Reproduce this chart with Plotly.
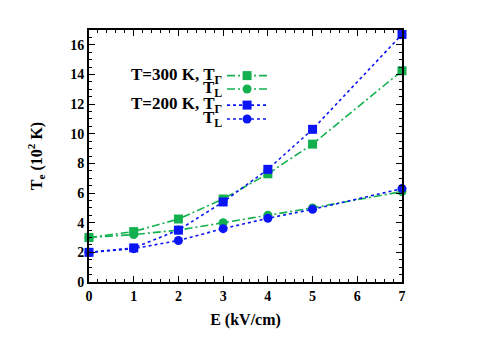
import plotly.graph_objects as go

E = [0, 1, 2, 3, 4, 5, 7]
T300_G = [3.0, 3.4, 4.25, 5.6, 7.3, 9.3, 14.25]
T300_L = [3.0, 3.2, 3.5, 4.0, 4.5, 5.0, 6.1]
T200_G = [2.0, 2.3, 3.5, 5.4, 7.6, 10.3, 16.7]
T200_L = [2.0, 2.25, 2.8, 3.6, 4.3, 4.9, 6.3]

labels = ["T=300 K, T<sub>Γ</sub>", "T<sub>L</sub>", "T=200 K, T<sub>Γ</sub>", "T<sub>L</sub>"]

GREEN = "#13b04f"
BLUE = "#0a14f5"
styles = [
    (T300_G, GREEN, "8px,3px,2px,3px", "square"),
    (T300_L, GREEN, "8px,3px,2px,3px", "circle"),
    (T200_G, BLUE, "3px,3px", "square"),
    (T200_L, BLUE, "3px,3px", "circle"),
]

FONT = "Liberation Serif, Times New Roman, serif"
fig = go.Figure()
for ys, col, dash, sym in styles:
    fig.add_trace(go.Scatter(x=E, y=ys, mode="lines+markers",
                             line=dict(color=col, width=1.6, dash=dash),
                             marker=dict(symbol=sym, size=9, color=col),
                             showlegend=False, cliponaxis=False))

# custom legend (gnuplot style: text then sample)
leg_y = [0.819, 0.766, 0.702, 0.647]
for i, (ys, col, dash, sym) in enumerate(styles):
    fig.add_trace(go.Scatter(x=[0.441, 0.505, 0.572], y=[leg_y[i]] * 3, mode="lines",
                             line=dict(color=col, width=1.6, dash=dash),
                             xaxis="x2", yaxis="y2", showlegend=False, hoverinfo="skip"))
    fig.add_trace(go.Scatter(x=[0.505], y=[leg_y[i]], mode="markers",
                             marker=dict(symbol=sym, size=9, color=col),
                             xaxis="x2", yaxis="y2", showlegend=False, hoverinfo="skip"))
    fig.add_annotation(x=0.432, y=leg_y[i], xref="x2", yref="y2", text="<b>" + labels[i] + "</b>",
                       showarrow=False, xanchor="right", yanchor="middle",
                       font=dict(family=FONT, size=17, color="black"))

axis_common = dict(showline=True, linecolor="black", linewidth=2, mirror="allticks",
                   ticks="inside", ticklen=6, tickwidth=1.2, tickcolor="black",
                   showgrid=False, zeroline=False, automargin=False,
                   tickprefix="<b>", ticksuffix="</b>",
                   tickfont=dict(family=FONT, size=14, color="black"))

fig.update_layout(
    width=483, height=335,
    margin=dict(l=81, r=89, t=22, b=61),
    plot_bgcolor="white", paper_bgcolor="white",
    xaxis=dict(range=[0, 7], dtick=1,
               minor=dict(dtick=0.2, ticks="inside", ticklen=3, tickcolor="black"),
               title=dict(text="<b>E (kV/cm)</b>", font=dict(family=FONT, size=16, color="black"), standoff=11),
               **axis_common),
    yaxis=dict(range=[0, 17], dtick=2,
               minor=dict(dtick=0.5, ticks="inside", ticklen=3, tickcolor="black"),
               title=dict(text="<b>T<sub>e</sub> (10<sup>2</sup> K)</b>", font=dict(family=FONT, size=16, color="black"), standoff=24),
               **axis_common),
    xaxis2=dict(range=[0, 1], overlaying="x", visible=False, fixedrange=True),
    yaxis2=dict(range=[0, 1], overlaying="y", visible=False, fixedrange=True),
)
fig.write_html("out.html")
